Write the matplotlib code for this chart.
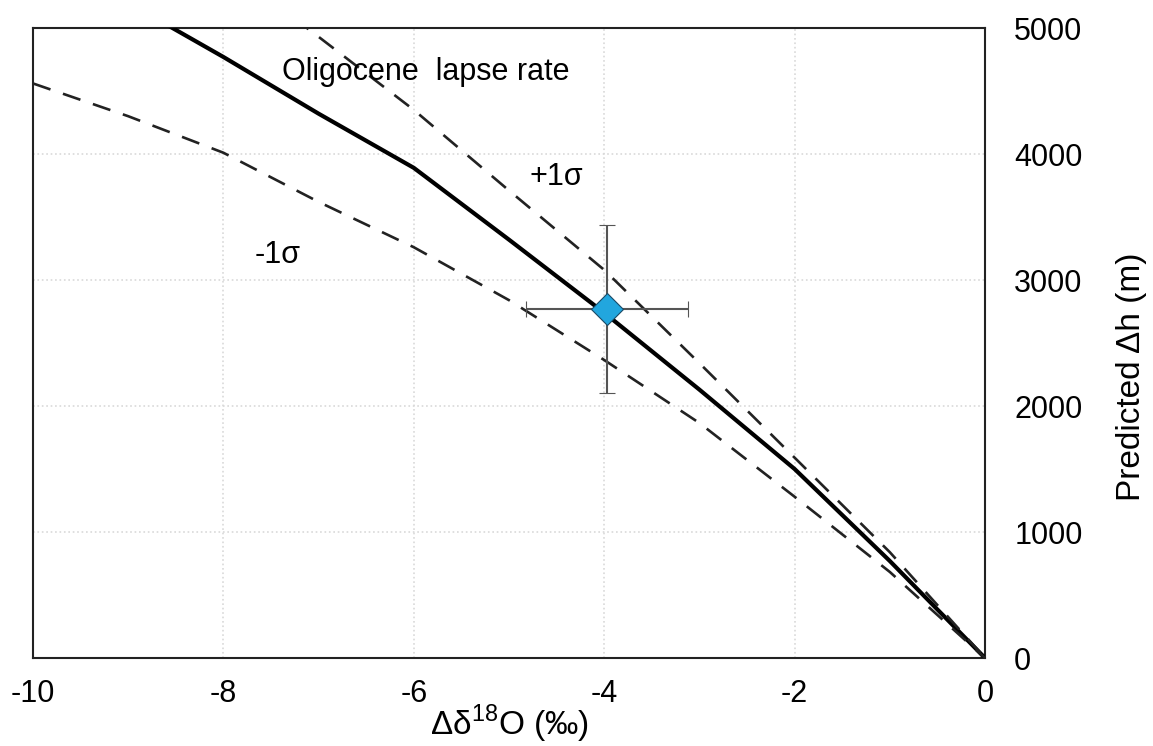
import numpy as np
import matplotlib
matplotlib.use("Agg")
from matplotlib import pyplot as plt

plt.rcParams['font.family'] = ['Liberation Sans', 'DejaVu Sans']
plt.rcParams['mathtext.fontset'] = 'custom'
plt.rcParams['mathtext.rm'] = 'Liberation Sans'
plt.rcParams['axes.unicode_minus'] = False

# data
d18o = [-10, -9, -8, -7, -6, -5, -4, -3, -2, -1, 0]
h_mean = [5600, 5200, 4770, 4320, 3890, 3320, 2740, 2130, 1500, 770, 0]
h_plus = [6300, 5900, 5500, 4930, 4350, 3710, 3080, 2340, 1590, 840, 0]
h_minus = [4560, 4300, 4010, 3620, 3260, 2840, 2365, 1865, 1280, 683, 0]

sample_x = -3.97
sample_y = 2770
sample_xerr = 0.85
sample_yerr = 670

fig = plt.figure(figsize=(11.53, 7.46), dpi=100)
ax = fig.add_axes([33/1153, 1-658/746, (985-33)/1153, (658-28)/746])

ax.plot(d18o, h_mean, color='black', lw=3, zorder=3)
ax.plot(d18o, h_plus, color='#222222', lw=1.9, dashes=(7, 5), zorder=3)
ax.plot(d18o, h_minus, color='#222222', lw=1.9, dashes=(7, 5), zorder=3)

ax.errorbar(sample_x, sample_y, xerr=sample_xerr, yerr=sample_yerr, fmt='D',
            ms=16, mfc='#22a6de', mec='#1a4a66', mew=0.8,
            ecolor='#555555', elinewidth=1.5, capsize=6, capthick=1.5, zorder=4)

ax.set_xlim(-10, 0)
ax.set_ylim(0, 5000)
ax.set_xticks([-10, -8, -6, -4, -2, 0])
ax.set_yticks([0, 1000, 2000, 3000, 4000, 5000])
ax.yaxis.tick_right()
ax.yaxis.set_label_position('right')
ax.tick_params(length=0, labelsize=22)
ax.tick_params(axis='x', pad=15)
ax.tick_params(axis='y', pad=21)
ax.grid(True, color='#d9d9d9', ls=':', lw=1.2)
for s in ax.spines.values():
    s.set_linewidth(1.5)
    s.set_color('#222222')

ax.set_xlabel(r'Δδ$^{18}$O (‰)', fontsize=24, labelpad=-4)
ax.set_ylabel('Predicted Δh (m)', fontsize=24, labelpad=24)
ax.yaxis.label.set_y(0.446)

ax.text(-7.38, 4651, 'Oligocene  lapse rate', fontsize=22, va='center')
ax.text(-4.78, 3817, '+1σ', fontsize=22, va='center')
ax.text(-7.67, 3198, '-1σ', fontsize=22, va='center')

fig.savefig('out.png', dpi=100)
